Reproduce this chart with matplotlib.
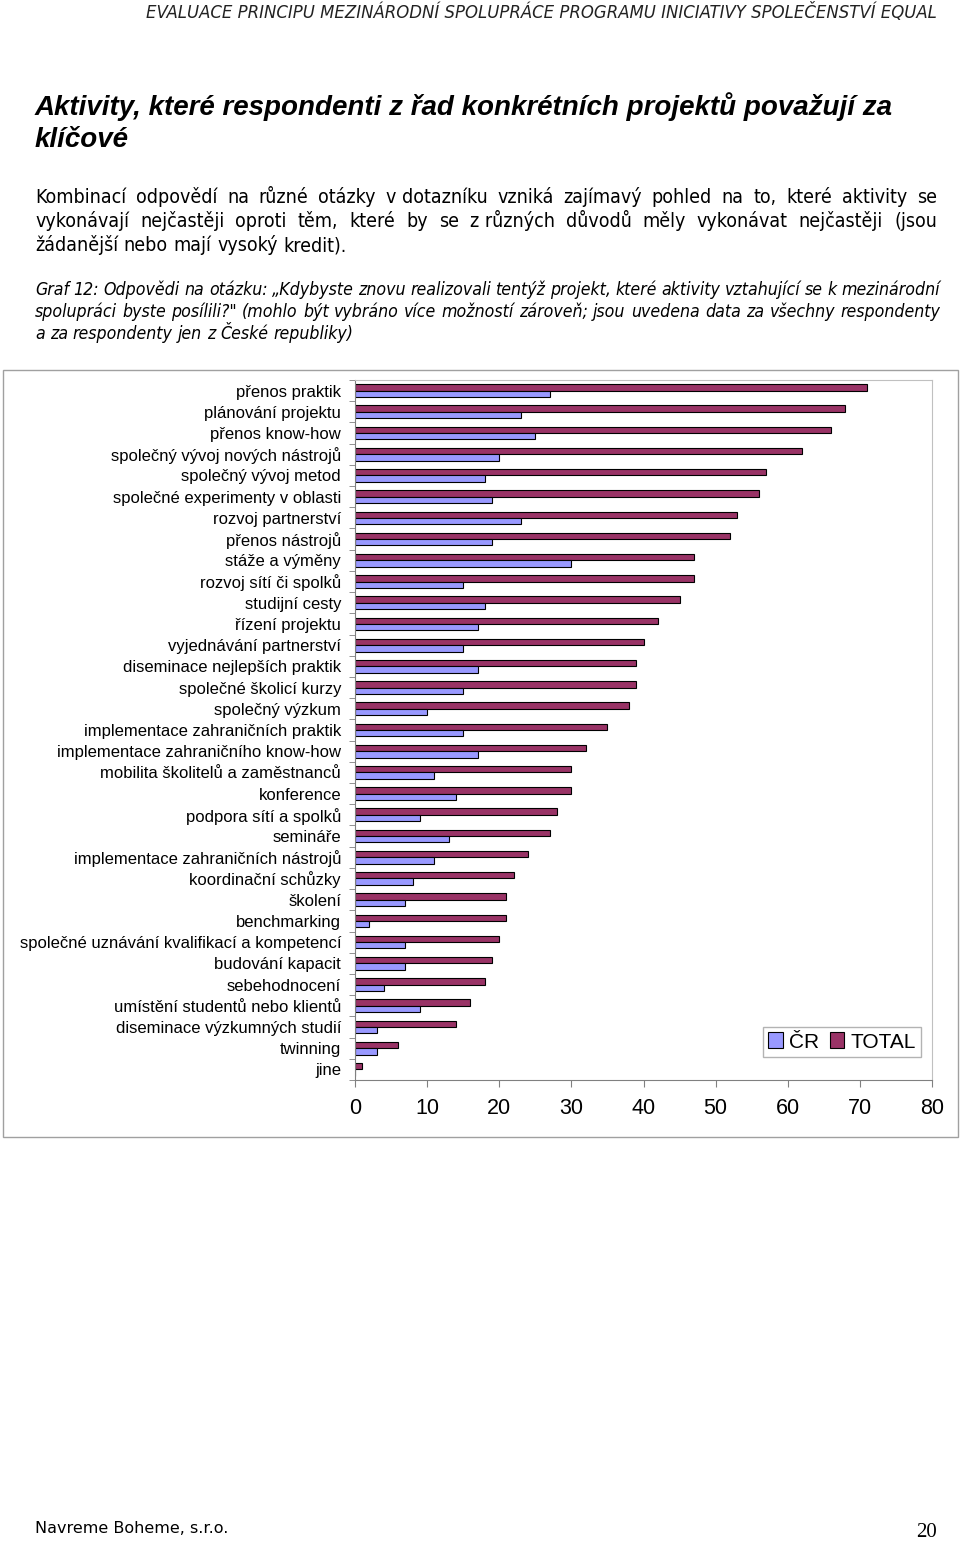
import matplotlib.pyplot as plt
import numpy as np
from matplotlib.patches import Rectangle
from matplotlib.font_manager import FontProperties, findfont

categories = [
    "přenos praktik", "plánování projektu", "přenos know-how",
    "společný vývoj nových nástrojů", "společný vývoj metod",
    "společné experimenty v oblasti", "rozvoj partnerství", "přenos nástrojů",
    "stáže a výměny", "rozvoj sítí či spolků", "studijní cesty",
    "řízení projektu", "vyjednávání partnerství", "diseminace nejlepších praktik",
    "společné školicí kurzy", "společný výzkum",
    "implementace zahraničních praktik", "implementace zahraničního know-how",
    "mobilita školitelů a zaměstnanců", "konference", "podpora sítí a spolků",
    "semináře", "implementace zahraničních nástrojů", "koordinační schůzky",
    "školení", "benchmarking", "společné uznávání kvalifikací a kompetencí",
    "budování kapacit", "sebehodnocení", "umístění studentů nebo klientů",
    "diseminace výzkumných studií", "twinning", "jine",
]
total = [71, 68, 66, 62, 57, 56, 53, 52, 47, 47, 45, 42, 40, 39, 39, 38, 35,
         32, 30, 30, 28, 27, 24, 22, 21, 21, 20, 19, 18, 16, 14, 6, 1]
cr = [27, 23, 25, 20, 18, 19, 23, 19, 30, 15, 18, 17, 15, 17, 15, 10, 15,
      17, 11, 14, 9, 13, 11, 8, 7, 2, 7, 7, 4, 9, 3, 3, 0]

header = "EVALUACE PRINCIPU MEZINÁRODNÍ SPOLUPRÁCE PROGRAMU INICIATIVY SPOLEČENSTVÍ EQUAL"
title_lines = ["Aktivity, které respondenti z řad konkrétních projektů považují za",
               "klíčové"]
body_lines = [
    "Kombinací odpovědí na různé otázky v\u00a0dotazníku vzniká zajímavý pohled na to, které aktivity se",
    "vykonávají nejčastěji oproti těm, které by se z\u00a0různých důvodů měly vykonávat nejčastěji (jsou",
    "žádanější nebo mají vysoký kredit).",
]
caption_lines = [
    "Graf 12: Odpovědi na otázku: „Kdybyste znovu realizovali tentýž projekt, které aktivity vztahující se k mezinárodní",
    "spolupráci byste posílili?\" (mohlo být vybráno více možností zároveň; jsou uvedena data za všechny respondenty",
    "a za respondenty jen z České republiky)",
]

W, H = 960, 1541
fig = plt.figure(figsize=(W / 100, H / 100), dpi=100)
plt.rcParams['font.family'] = ['Liberation Sans', 'DejaVu Sans']

# condensed text face for the page text if one is installed
cond_path = findfont(FontProperties(family='DejaVu Sans', stretch='condensed'))
if 'Condensed' in cond_path:
    page_font = dict(family=['DejaVu Sans'], stretch='condensed')
    head_size, body_size, cap_size = 13.2, 14, 12.7
else:
    page_font = dict(family=['Liberation Sans', 'DejaVu Sans'])
    head_size, body_size, cap_size = 12, 14, 12.9


def fx(px):
    return px / W


def fy(py):
    return 1 - py / H


def put_line(line, x0, x1, ypx, justify=True, **kw):
    words = line.split(' ')
    texts = [fig.text(0, fy(ypx), w, va='baseline', **kw) for w in words]
    r = fig.canvas.get_renderer()
    widths = [t.get_window_extent(r).width for t in texts]
    t1 = fig.text(0, 0, 'a a', **kw)
    t2 = fig.text(0, 0, 'aa', **kw)
    sw = t1.get_window_extent(r).width - t2.get_window_extent(r).width
    t1.remove()
    t2.remove()
    gap = sw
    if justify and len(words) > 1:
        gap = max(sw * 0.5, (x1 - x0 - sum(widths)) / (len(words) - 1))
    x = x0
    for t, w in zip(texts, widths):
        t.set_x(fx(x))
        x += w + gap


# page texts
fig.text(fx(937), fy(18), header, ha='right', va='baseline', style='italic',
         fontsize=head_size, color='#222222', **page_font)
for i, ln in enumerate(title_lines):
    fig.text(fx(35), fy(115 + i * 32), ln, va='baseline', style='italic',
             weight='bold', fontsize=20)
for i, ln in enumerate(body_lines):
    put_line(ln, 35, 937, 203 + i * 24, justify=(i < 2), fontsize=body_size,
             **page_font)
for i, ln in enumerate(caption_lines):
    put_line(ln, 35, 940, 295 + i * 22, justify=(i < 2), fontsize=cap_size,
             style='italic', **page_font)
fig.text(fx(35), fy(1533), "Navreme Boheme, s.r.o.", va='baseline', fontsize=11.5,
         family=['DejaVu Sans'])
fig.text(fx(937), fy(1537), "20", ha='right', va='baseline', fontsize=15,
         family=['Liberation Serif', 'DejaVu Serif'])

# chart frame
fig.patches.append(Rectangle((fx(3), fy(1137)), fx(958) - fx(3), fy(370) - fy(1137),
                             transform=fig.transFigure, fill=False,
                             edgecolor='#a0a0a0', lw=1))

ax = fig.add_axes([fx(355), fy(1080), fx(932) - fx(355), fy(380) - fy(1080)])
y = np.arange(len(categories))
h = 0.3
b_tot = ax.barh(y - h / 2, total, height=h, color='#993366', edgecolor='black', lw=0.8)
b_cr = ax.barh(y + h / 2, cr, height=h, color='#9999FF', edgecolor='black', lw=0.8)
ax.set_ylim(len(categories) - 0.5, -0.5)
ax.set_xlim(0, 80)
ax.set_xticks(range(0, 81, 10))
ax.set_yticks(y)
ax.set_yticklabels(categories, fontsize=12)
ax.set_yticks(np.arange(-0.5, len(categories)), minor=True)
ax.tick_params(axis='y', which='major', length=0, pad=10)
ax.tick_params(axis='y', which='minor', length=4, color='#808080')
ax.tick_params(axis='x', length=5, color='#808080', labelsize=15.5, pad=8)
for s in ['left', 'bottom']:
    ax.spines[s].set_color('#808080')
for s in ['top', 'right']:
    ax.spines[s].set_color('#c0c0c0')

fig.legend([b_cr, b_tot], ["ČR", "TOTAL"], ncol=2, loc='center',
           bbox_to_anchor=(fx(842), fy(1042)), fontsize=15, frameon=True,
           fancybox=False, edgecolor='#a0a0a0', handlelength=0.7, handleheight=0.8,
           handletextpad=0.3, columnspacing=0.5, borderpad=0.25)

fig.savefig('out.png', dpi=100, facecolor='white')
